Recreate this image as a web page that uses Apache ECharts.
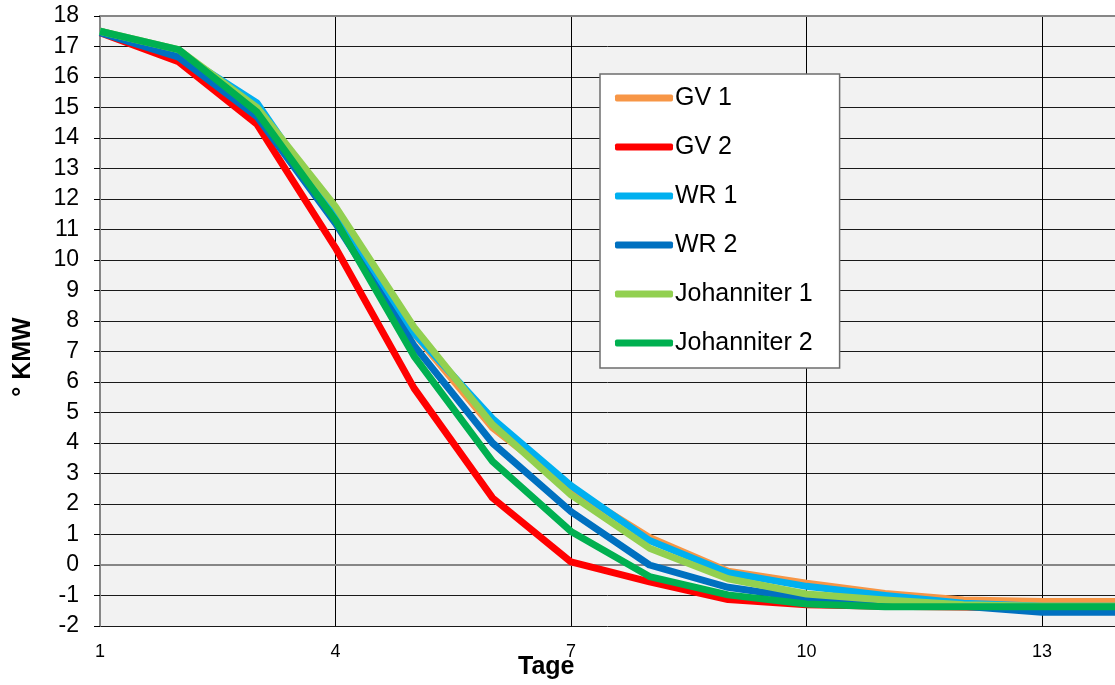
<!DOCTYPE html>
<html>
<head>
<meta charset="utf-8">
<style>
  html, body { margin: 0; padding: 0; background: #fff; }
  #chart { width: 1115px; height: 685px; }
</style>
<script src="https://cdn.jsdelivr.net/npm/echarts@6/dist/echarts.min.js"></script>
</head>
<body>
<div id="chart"></div>
<script>
// Tage (Tag 1 bis 14)
const days = [1, 2, 3, 4, 5, 6, 7, 8, 9, 10, 11, 12, 13, 14];

// Werte in ° KMW
const gv1 = [17.5, 16.8, 14.9, 11.4, 7.6, 4.5, 2.5, 0.9, -0.2, -0.6, -0.93, -1.15, -1.2, -1.2];
const gv2 = [17.45, 16.5, 14.45, 10.4, 5.8, 2.2, 0.1, -0.55, -1.13, -1.3, -1.35, -1.38, -1.4, -1.4];
const wr1 = [17.5, 16.8, 15.15, 11.4, 7.6, 4.8, 2.6, 0.8, -0.25, -0.7, -1.0, -1.25, -1.35, -1.35];
const wr2 = [17.45, 16.65, 14.7, 11.2, 7.2, 4.0, 1.75, 0.0, -0.73, -1.1, -1.3, -1.35, -1.55, -1.55];
const joh1 = [17.5, 16.9, 15.0, 11.75, 7.8, 4.6, 2.3, 0.55, -0.45, -0.95, -1.15, -1.3, -1.35, -1.35];
const joh2 = [17.5, 16.9, 14.85, 11.3, 6.85, 3.4, 1.1, -0.38, -0.98, -1.28, -1.37, -1.37, -1.37, -1.37];

const seriesNames = ['GV 1', 'GV 2', 'WR 1', 'WR 2', 'Johanniter 1', 'Johanniter 2'];
const seriesData = [gv1, gv2, wr1, wr2, joh1, joh2];
const colors = ['#F79646', '#FF0000', '#00B0F0', '#0070C0', '#92D050', '#00B050'];

const font = 'Liberation Sans, Arial, sans-serif';

// the original plot is cut off by the window a little before day 14
const xMax = 13.93;

const chart = echarts.init(document.getElementById('chart'));

const option = {
  animation: false,
  color: colors,
  textStyle: { fontFamily: font },
  grid: {
    left: 100,
    top: 16,
    right: 0,
    bottom: 59,
    show: true,
    backgroundColor: '#f2f2f2',
    borderWidth: 0
  },
  legend: {
    orient: 'vertical',
    left: 600,
    top: 74,
    padding: [11, 27, 12, 15],
    backgroundColor: '#ffffff',
    borderColor: '#6e6e6e',
    borderWidth: 1.5,
    borderRadius: 0,
    itemWidth: 58,
    itemHeight: 7,
    itemGap: 23,
    icon: 'roundRect',
    textStyle: {
      fontSize: 25,
      color: '#000',
      lineHeight: 26,
      padding: [0, 0, 0, -3]
    },
    data: seriesNames
  },
  xAxis: [
    {
      type: 'value',
      min: 1,
      max: xMax,
      interval: 3,
      axisLine: { lineStyle: { color: '#868686', width: 2 } },
      axisTick: { show: false },
      axisLabel: {
        fontSize: 18,
        color: '#000',
        margin: 17,
        showMaxLabel: false
      },
      splitLine: {
        show: true,
        lineStyle: { color: '#000', width: 1 }
      }
    },
    {
      // top border of the plot
      type: 'value',
      position: 'top',
      min: 1,
      max: xMax,
      interval: 3,
      axisLine: { show: true, lineStyle: { color: '#868686', width: 2 } },
      axisTick: { show: false },
      axisLabel: { show: false },
      splitLine: { show: false }
    }
  ],
  yAxis: {
    type: 'value',
    min: -2,
    max: 18,
    interval: 1,
    axisLine: { show: true, lineStyle: { color: '#868686', width: 2 } },
    axisTick: { show: true, length: 6, lineStyle: { color: '#000' } },
    axisLabel: {
      fontSize: 23,
      color: '#000',
      margin: 21
    },
    splitLine: { lineStyle: { color: '#1a1a1a', width: 1 } }
  },
  graphic: [
    {
      type: 'text',
      left: 518,
      top: 655,
      style: { text: 'Tage', font: 'bold 25px ' + font, fill: '#000' }
    },
    {
      type: 'text',
      x: 23,
      y: 357,
      rotation: Math.PI / 2,
      style: {
        text: '° KMW',
        font: 'bold 25px ' + font,
        fill: '#000',
        align: 'center',
        verticalAlign: 'middle'
      }
    }
  ],
  series: seriesNames.map(function (name, i) {
    return {
      name: name,
      type: 'line',
      xAxisIndex: 0,
      data: days.map(function (d, j) { return [d, seriesData[i][j]]; }),
      symbol: 'none',
      smooth: false,
      clip: true,
      lineStyle: { width: 7, color: colors[i], join: 'round' }
    };
  })
};

chart.setOption(option);
</script>
</body>
</html>
